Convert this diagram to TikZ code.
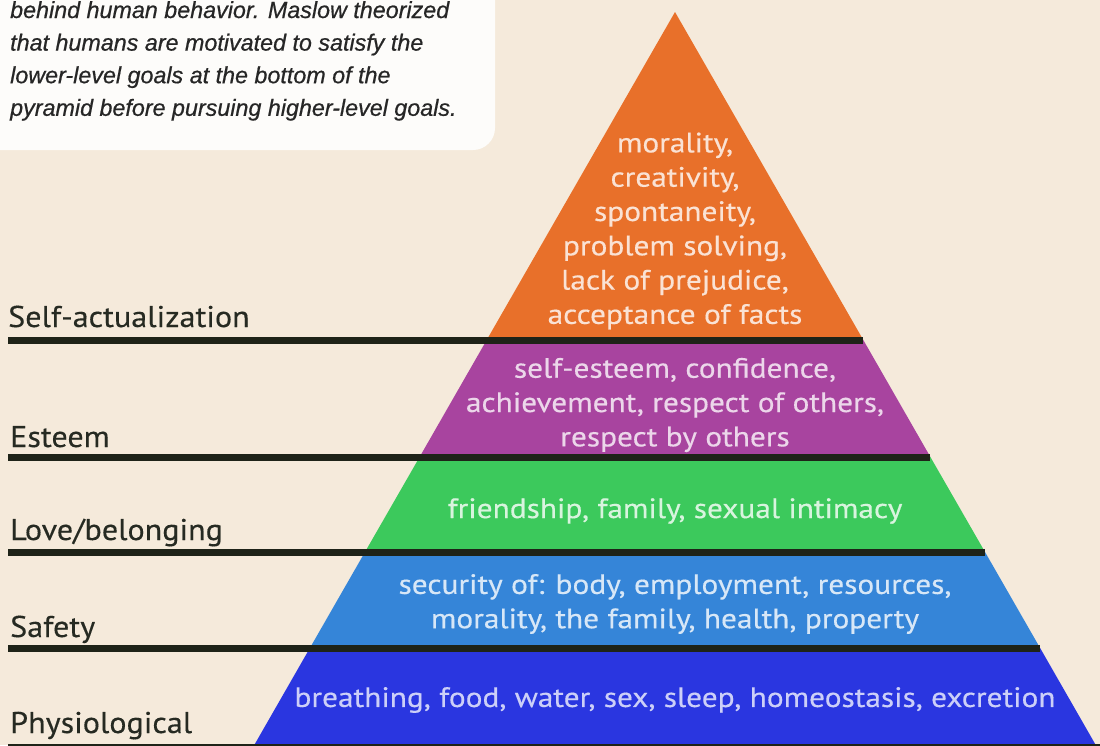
\documentclass[tikz,border=0pt]{standalone}
\usepackage{fontspec}
\setmainfont{Liberation Sans}
\newfontfamily\dinfont[FakeStretch=1.12,FakeBold=0.4]{PT Sans}
\newfontfamily\dinlabel[FakeStretch=1.07,FakeBold=0.3]{PT Sans}
\newfontfamily\notefont[FakeBold=0.6]{Liberation Sans Italic}
\definecolor{paper}{HTML}{F5EADB}
\definecolor{notecard}{HTML}{FDFCFA}
\definecolor{rulecol}{HTML}{1E2318}
\definecolor{lvOrange}{HTML}{E8702A}
\definecolor{lvPurple}{HTML}{A8449F}
\definecolor{lvGreen}{HTML}{3CC95C}
\definecolor{lvSky}{HTML}{3585D8}
\definecolor{lvBlue}{HTML}{2A36E0}
\definecolor{labelcol}{HTML}{262A22}
\tikzset{
  levelrule/.style={draw=rulecol, line width=7pt},
  levelname/.style={anchor=base west, inner sep=0pt, text=labelcol,
    font=\dinlabel\fontsize{30}{34}\selectfont},
  bandtext/.style={align=center, inner sep=0pt,
    font=\dinfont\fontsize{28}{34.3}\selectfont},
  noteline/.style={anchor=base west, inner sep=0pt, text=black!85,
    font=\notefont\fontsize{23.3}{32}\selectfont},
}
\begin{document}
\begin{tikzpicture}[x=1pt,y=-1pt]
\useasboundingbox (0,0) rectangle (1100,745);
\clip (0,0) rectangle (1100,745);
\fill[paper] (0,0) rectangle (1100,745);

% note card in the upper left corner
\fill[notecard, rounded corners=22pt] (-40,-40) rectangle (495,150);
\node[noteline] (n1) at (10,18)    {behind human behavior. Maslow theorized};
\node[noteline] (n2) at (10,50.6)  {that humans are motivated to satisfy the};
\node[noteline] (n3) at (10,83.2)  {lower-level goals at the bottom of the};
\node[noteline] (n4) at (10,115.8) {pyramid before pursuing higher-level goals.};

% pyramid bands (apex 675,12; edges widen 0.574 per unit of depth)
\fill[lvOrange] (675,12) -- (863.3,340) -- (486.7,340) -- cycle;
\fill[lvPurple] (486.7,340) -- (863.3,340) -- (930.4,457) -- (419.6,457) -- cycle;
\fill[lvGreen]  (419.6,457) -- (930.4,457) -- (985.0,552) -- (365.0,552) -- cycle;
\fill[lvSky]    (365.0,552) -- (985.0,552) -- (1040.1,648) -- (309.9,648) -- cycle;
\fill[lvBlue]   (309.9,648) -- (1040.1,648) -- (1098.6,750) -- (251.4,750) -- cycle;

% level rules
\coordinate (r1a) at (8,340);  \coordinate (r1b) at (863.3,340);
\coordinate (r2a) at (8,457);  \coordinate (r2b) at (930.4,457);
\coordinate (r3a) at (8,552);  \coordinate (r3b) at (985.0,552);
\coordinate (r4a) at (8,648);  \coordinate (r4b) at (1040.1,648);
\coordinate (r5a) at (8,747.5);\coordinate (r5b) at (1100,747.5);
\draw[levelrule] (r1a) -- (r1b);
\draw[levelrule] (r2a) -- (r2b);
\draw[levelrule] (r3a) -- (r3b);
\draw[levelrule] (r4a) -- (r4b);
\draw[levelrule] (r5a) -- (r5b);

% level names
\node[levelname] (selfact) at (8,327)  {Self-actualization};
\node[levelname] (esteem)  at (10,447) {Esteem};
\node[levelname] (love)    at (10,540) {Love/belonging};
\node[levelname] (safety)  at (10,637) {Safety};
\node[levelname] (physio)  at (10,733) {Physiological};

% band contents
\node[bandtext, text=white!80!lvOrange] (tOrange) at (675,231)
  {morality,\\creativity,\\spontaneity,\\problem solving,\\lack of prejudice,\\acceptance of facts};
\node[bandtext, text=white!78!lvPurple] (tPurple) at (675,405)
  {self-esteem, confidence,\\achievement, respect of others,\\respect by others};
\node[bandtext, text=white!80!lvGreen] (tGreen) at (675,511)
  {friendship, family, sexual intimacy};
\node[bandtext, text=white!80!lvSky] (tSky) at (675,604)
  {security of: body, employment, resources,\\morality, the family, health, property};
\node[bandtext, text=white!76!lvBlue] (tBlue) at (675,700)
  {breathing, food, water, sex, sleep, homeostasis, excretion};
\end{tikzpicture}
\end{document}
